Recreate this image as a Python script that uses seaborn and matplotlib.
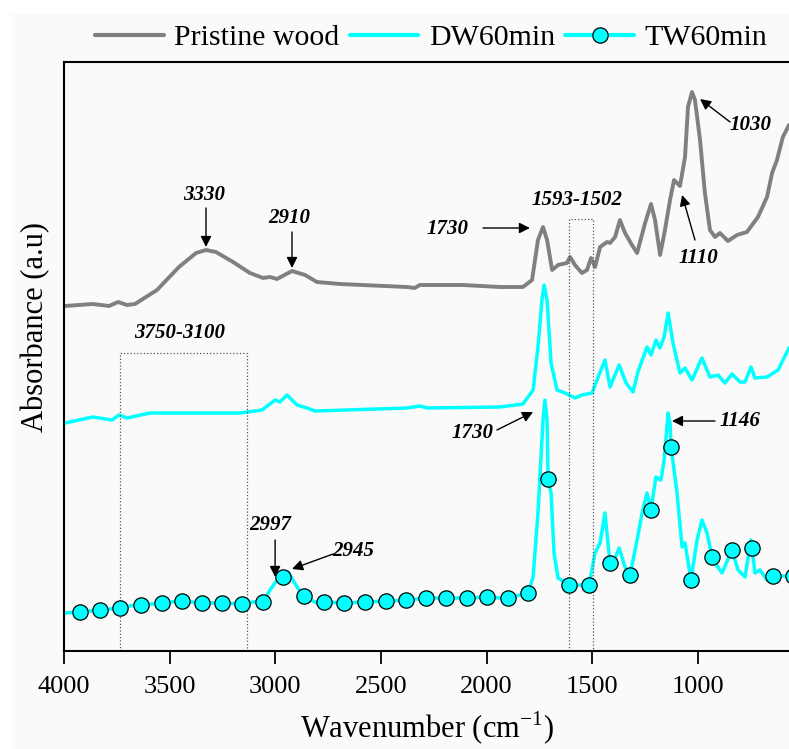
import numpy as np
import pandas as pd
import matplotlib
matplotlib.use("Agg")
import matplotlib.pyplot as plt
from matplotlib.lines import Line2D
from matplotlib.patches import Rectangle
import seaborn as sns

# spectra (wavenumber cm-1, absorbance a.u.)
pristine_wn = [3995, 3863, 3787, 3744, 3702, 3664, 3560, 3456, 3375, 3328,
               3281, 3200, 3120, 3058, 3025, 2992, 2921, 2859, 2803, 2694,
               2377, 2340, 2316, 2112, 1937, 1828, 1785, 1757, 1733, 1714,
               1690, 1662, 1620, 1605, 1582, 1549, 1525, 1506, 1487, 1463,
               1430, 1416, 1392, 1369, 1345, 1312, 1288, 1250, 1222, 1203,
               1179, 1156, 1132, 1113, 1085, 1061, 1047, 1028, 1014, 990,
               967, 943, 919, 896, 858, 815, 768, 716, 673, 649,
               626, 598, 569]
pristine_abs = [3.45, 3.47, 3.45, 3.49, 3.46, 3.47, 3.61, 3.84, 3.98, 4.01,
                3.99, 3.89, 3.78, 3.73, 3.74, 3.72, 3.80, 3.76, 3.69, 3.67,
                3.64, 3.63, 3.66, 3.66, 3.64, 3.64, 3.71, 4.11, 4.24, 4.11,
                3.81, 3.86, 3.88, 3.94, 3.86, 3.78, 3.81, 3.93, 3.84, 4.04,
                4.09, 4.08, 4.14, 4.31, 4.18, 4.06, 3.98, 4.28, 4.47, 4.31,
                3.96, 4.21, 4.51, 4.71, 4.65, 4.94, 5.44, 5.59, 5.51, 5.11,
                4.58, 4.21, 4.14, 4.18, 4.10, 4.16, 4.19, 4.34, 4.54, 4.78,
                4.91, 5.14, 5.26]

dw_wn = [3995, 3863, 3773, 3740, 3702, 3593, 3167, 3063, 3001, 2978,
         2945, 2897, 2850, 2812, 2377, 2315, 2282, 1937, 1828, 1780,
         1757, 1738, 1728, 1714, 1695, 1667, 1629, 1582, 1549, 1501,
         1478, 1440, 1416, 1373, 1340, 1307, 1284, 1241, 1222, 1198,
         1180, 1160, 1141, 1118, 1085, 1061, 1028, 981, 943, 905,
         872, 839, 801, 777, 749, 730, 673, 621, 569]
dw_abs = [2.28, 2.34, 2.31, 2.36, 2.33, 2.38, 2.38, 2.41, 2.51, 2.49,
          2.56, 2.46, 2.43, 2.40, 2.43, 2.45, 2.43, 2.44, 2.47, 2.61,
          3.04, 3.51, 3.66, 3.51, 2.88, 2.61, 2.58, 2.53, 2.56, 2.58,
          2.71, 2.91, 2.64, 2.86, 2.68, 2.59, 2.79, 3.04, 2.96, 3.11,
          3.03, 3.14, 3.38, 3.08, 2.78, 2.83, 2.71, 2.93, 2.74, 2.76,
          2.68, 2.77, 2.69, 2.69, 2.84, 2.73, 2.74, 2.81, 3.03]

tw_wn = [3995, 3688, 3640, 3451, 3134, 3072, 3025, 2992, 2973, 2940,
         2897, 2850, 2803, 1937, 1780, 1757, 1733, 1724, 1714, 1695,
         1681, 1662, 1487, 1463, 1440, 1392, 1373, 1345, 1288, 1264,
         1241, 1199, 1175, 1160, 1141, 1132, 1099, 1075, 1061, 1004,
         981, 957, 929, 886, 810, 777, 749, 730, 706, 673, 569]
tw_abs = [0.38, 0.45, 0.47, 0.50, 0.48, 0.50, 0.61, 0.71, 0.68, 0.79,
          0.64, 0.53, 0.48, 0.53, 0.74, 1.38, 2.31, 2.51, 2.31, 1.58,
          0.98, 0.73, 0.98, 1.08, 1.38, 0.93, 1.03, 0.84, 1.11, 1.38,
          1.58, 1.74, 1.71, 1.91, 2.38, 2.28, 1.58, 1.04, 1.08, 1.11,
          1.31, 1.18, 0.91, 0.78, 0.81, 0.74, 1.11, 0.78, 0.81, 0.71, 0.75]

# circle markers on the TW curve
tw_mark_wn = [3924, 3830, 3735, 3636, 3536, 3442, 3347, 3252, 3158, 3058,
              2964, 2865, 2770, 2675, 2575, 2476, 2381, 2287, 2192, 2093,
              1998, 1899, 1804, 1709, 1610, 1515, 1416, 1321, 1222, 1127,
              1033, 933, 839, 744, 645, 550]
tw_mark_abs = [0.39, 0.41, 0.43, 0.46, 0.48, 0.50, 0.48, 0.48, 0.47, 0.49,
               0.74, 0.55, 0.49, 0.48, 0.49, 0.50, 0.51, 0.53, 0.53, 0.53,
               0.54, 0.53, 0.58, 1.72, 0.66, 0.66, 0.88, 0.76, 1.41, 2.04,
               0.71, 0.94, 1.01, 1.03, 0.75, 0.75]

x_ticks = [4000, 3500, 3000, 2500, 2000, 1500, 1000]

pristine = pd.DataFrame({"wn": pristine_wn, "abs": pristine_abs})
dw = pd.DataFrame({"wn": dw_wn, "abs": dw_abs})
marks = pd.DataFrame({"wn": tw_mark_wn, "abs": tw_mark_abs})
tw = pd.concat([marks, pd.DataFrame({"wn": tw_wn, "abs": tw_abs})])
tw = tw.drop_duplicates(subset="wn").sort_values("wn")

sns.set_style("ticks")
plt.rcParams["font.family"] = ["Liberation Serif", "DejaVu Serif"]
plt.rcParams["mathtext.fontset"] = "custom"
plt.rcParams["mathtext.rm"] = "Liberation Serif"
for key in ["text.color", "axes.labelcolor", "xtick.color", "ytick.color"]:
    plt.rcParams[key] = "black"

GRAY = "#808080"
CYAN = "#00FFFF"
BG = "#fafafa"

fig = plt.figure(figsize=(7.89, 7.49), dpi=100, facecolor="white")
fig.patches.append(Rectangle((12 / 789, 0), 1, 1 - 14 / 749, transform=fig.transFigure,
                             color=BG, zorder=-10))
ax = fig.add_axes([64 / 789, 98 / 749, 1 - 64 / 789, 589 / 749])
ax.set_facecolor(BG)

sns.lineplot(data=pristine, x="wn", y="abs", ax=ax, color=GRAY, lw=2.8, estimator=None)
sns.lineplot(data=dw, x="wn", y="abs", ax=ax, color=CYAN, lw=2.5, estimator=None)
sns.lineplot(data=tw, x="wn", y="abs", ax=ax, color=CYAN, lw=2.5, estimator=None)
ax.plot(marks["wn"], marks["abs"], ls="none", marker="o", ms=11,
        mfc=CYAN, mec="black", mew=0.9, zorder=5)

ax.set_xlim(4000, 569)
ax.set_ylim(0, 5.89)
ax.set_xticks(x_ticks)
ax.set_yticks([])
ax.tick_params(axis="x", direction="out", length=9, width=1.3, labelsize=19, pad=9)
for side in ["left", "top", "bottom"]:
    ax.spines[side].set_linewidth(1.5)
    ax.spines[side].set_color("black")
ax.spines["right"].set_visible(False)

ax.set_xlabel("Wavenumber (cm$^{\\mathrm{-1}}$)", fontsize=22)
ax.xaxis.set_label_coords(0.5, -0.1)
ax.set_ylabel("Absorbance (a.u)", fontsize=22)
ax.yaxis.set_label_coords(-0.019, 0.55)

# dotted boxes
for x0, x1, top in [(3735, 3134, 2.98), (1612, 1497, 4.32)]:
    ax.plot([x0, x0, x1, x1], [0, top, top, 0], ls=":", color="#555555", lw=0.9)

# peak labels
font = dict(fontsize=15, fontweight="bold", fontstyle="italic", ha="center", va="center")
labels = [("3330", 3335, 4.56), ("2910", 2935, 4.33), ("1730", 2183, 4.22),
          ("1593-1502", 1572, 4.51), ("3750-3100", 3451, 3.18), ("1030", 753, 5.26),
          ("1110", 1000, 3.93), ("1730", 2069, 2.18), ("1146", 800, 2.30),
          ("2997", 3025, 1.26), ("2945", 2632, 1.00)]
for txt, x, y in labels:
    ax.text(x, y, txt, **font)

arrows = [((3328, 4.04), (3328, 4.43)), ((2921, 3.83), (2921, 4.19)),
          ((1795, 4.23), (2017, 4.23)), ((990, 5.52), (848, 5.29)),
          ((1075, 4.56), (1014, 4.11)), ((1780, 2.39), (1951, 2.21)),
          ((1123, 2.30), (919, 2.30)), ((3001, 0.74), (3001, 1.11)),
          ((2921, 0.82), (2727, 0.97))]
for head, tail in arrows:
    ax.annotate("", xy=head, xytext=tail,
                arrowprops=dict(arrowstyle="-|>", color="black", lw=1.0,
                                mutation_scale=16, shrinkA=0, shrinkB=0))

handles = [Line2D([], [], color=GRAY, lw=3),
           Line2D([], [], color=CYAN, lw=3),
           Line2D([], [], color=CYAN, lw=3, marker="o", ms=11, mfc=CYAN, mec="black", mew=0.9)]
fig.legend(handles, ["Pristine wood", "DW60min", "TW60min"], loc="center",
           bbox_to_anchor=(431 / 789, 1 - 38 / 749), ncol=3, frameon=False,
           fontsize=21.5, handlelength=2.3, handletextpad=0.35, columnspacing=0.35)

fig.savefig("out.png", dpi=100, facecolor=fig.get_facecolor())
